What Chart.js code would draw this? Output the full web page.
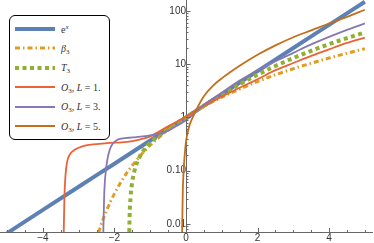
<!DOCTYPE html>
<html>
<head>
<meta charset="utf-8">
<script src="https://cdn.jsdelivr.net/npm/chart.js@4.4.1/dist/chart.umd.min.js"></script>
<style>
html, body { margin: 0; padding: 0; background: #fff; }
#wrap { position: relative; width: 374px; height: 243px; }
#legend {
  position: absolute; left: 9px; top: 15px; width: 99px; height: 123px;
  border: 1.3px solid #000; border-radius: 6px; background: #fff;
  font-family: "Liberation Serif", serif; font-size: 10px; color: #333;
}
.row { position: absolute; left: 5px; height: 12px; display: flex; align-items: center; white-space: nowrap; }
.row svg { margin-right: 6px; }
sub { font-size: 7px; vertical-align: -2px; line-height: 0; font-style: normal; }
sup { font-size: 7px; vertical-align: 4px; line-height: 0; }
</style>
</head>
<body>
<div id="wrap">
  <canvas id="chart" width="374" height="243"></canvas>
  <div id="legend"></div>
</div>
<script>
// e^x
const expX = [-5, -4, -3, -2, -1, 0, 1, 2, 3, 4, 5];
const expY = [0.0067, 0.0183, 0.0498, 0.135, 0.368, 1, 2.72, 7.39, 20.1, 54.6, 148.4];

// beta_3
const betaX = [-2.6, -2.5, -2.4, -2.25, -2.1, -2, -1.75, -1.5, -1.25, -1, -0.5, 0, 0.5, 1, 1.5, 2, 2.5, 3, 3.5, 4, 4.5, 5];
const betaY = [0.0024, 0.0048, 0.0085, 0.016, 0.027, 0.037, 0.073, 0.125, 0.2, 0.3, 0.58, 1, 1.6, 2.4, 3.4, 4.7, 6.3, 8.2, 10.4, 13, 16, 19.5];

// T_3
const taylorX = [-1.6, -1.58, -1.55, -1.5, -1.4, -1.3, -1.2, -1, -0.5, 0, 0.5, 1, 1.5, 2, 2.5, 3, 3.5, 4, 4.5, 5];
const taylorY = [0.001, 0.011, 0.031, 0.063, 0.123, 0.179, 0.232, 0.333, 0.604, 1, 1.65, 2.67, 4.19, 6.33, 9.23, 13, 17.8, 23.7, 30.8, 39.3];

// O_3, L = 1
const o1X = [-3.45, -3.42, -3.4, -3.37, -3.33, -3.25, -3.1, -2.9, -2.6, -2.2, -1.8, -1.5, -1.2, -1, -0.5, 0, 0.5, 1, 1.5, 2, 2.5, 3, 3.5, 4, 4.5, 5];
const o1Y = [0.001, 0.006, 0.03, 0.08, 0.14, 0.2, 0.25, 0.285, 0.31, 0.33, 0.34, 0.36, 0.4, 0.44, 0.68, 1.03, 1.65, 2.45, 3.6, 5.2, 7.7, 10.5, 14.3, 19, 25, 31.5];

// O_3, L = 3
const o3X = [-2.34, -2.31, -2.29, -2.27, -2.24, -2.2, -2.13, -2.05, -1.95, -1.8, -1.5, -1.2, -1, -0.6, -0.25, 0, 0.5, 1, 1.5, 2, 2.5, 3, 3.5, 4, 4.5, 5];
const o3Y = [0.001, 0.008, 0.03, 0.06, 0.1, 0.16, 0.25, 0.32, 0.37, 0.4, 0.42, 0.44, 0.46, 0.53, 0.7, 0.88, 1.72, 2.9, 4.9, 7.6, 11.3, 16.3, 23.5, 32.5, 44, 58];

// O_3, L = 5
const o5X = [-0.13, -0.11, -0.09, -0.07, -0.05, -0.03, 0, 0.05, 0.1, 0.2, 0.3, 0.5, 0.75, 1, 1.5, 2, 2.5, 3, 3.5, 4, 4.5, 5];
const o5Y = [0.001, 0.006, 0.04, 0.09, 0.15, 0.22, 0.35, 0.53, 0.72, 1.05, 1.45, 2.5, 3.9, 5.4, 9.3, 15, 22.5, 32, 43, 58, 77, 105];

// axes
const xTickVals = [-4, -2, 0, 2, 4];
const xTickText = ['\u22124', '\u22122', '0', '2', '4'];
const yTickVals = [0.01, 0.1, 1, 10, 100];
const yTickText = ['0.01', '0.10', '1', '10', '100'];

const axisColor = '#666';
const labelColor = '#333';

function pts(xs, ys) {
  return xs.map((x, i) => ({x: x, y: ys[i]}));
}

// tick marks point inwards, like the original
const tickMarks = {
  id: 'tickMarks',
  afterDraw(chart) {
    const ctx = chart.ctx;
    const sx = chart.scales.x, sy = chart.scales.y;
    const x0 = sx.getPixelForValue(0);
    const yb = chart.chartArea.bottom;
    ctx.save();
    ctx.strokeStyle = axisColor;
    ctx.lineWidth = 1;
    ctx.beginPath();
    for (let v = -5; v <= 5; v += 0.5) {
      const px = Math.round(sx.getPixelForValue(v)) + 0.5;
      const len = xTickVals.includes(v) ? 4 : 2;
      ctx.moveTo(px, yb);
      ctx.lineTo(px, yb - len);
    }
    for (let d = 0.001; d <= 100; d *= 10) {
      for (let m = 1; m <= 9; m++) {
        const v = d * m;
        if (v < sy.min || v > sy.max) continue;
        const py = Math.round(sy.getPixelForValue(v)) + 0.5;
        const len = m === 1 ? 4.5 : 2.5;
        ctx.moveTo(x0, py);
        ctx.lineTo(x0 + len, py);
      }
    }
    ctx.stroke();
    ctx.restore();
  }
};

const lineDefaults = { pointRadius: 0, fill: false, cubicInterpolationMode: 'monotone' };

new Chart(document.getElementById('chart'), {
  type: 'line',
  data: {
    datasets: [
      Object.assign({ label: 'e^x', data: pts(expX, expY), borderColor: '#5E81B5', borderWidth: 4, order: 6 }, lineDefaults),
      Object.assign({ label: 'beta3', data: pts(betaX, betaY), borderColor: '#E19C24', borderWidth: 3, borderDash: [5, 3, 1.5, 3], order: 5 }, lineDefaults),
      Object.assign({ label: 'T3', data: pts(taylorX, taylorY), borderColor: '#8FB032', borderWidth: 4, borderDash: [4, 3.5], order: 4 }, lineDefaults),
      Object.assign({ label: 'O3 L=1', data: pts(o1X, o1Y), borderColor: '#EB6235', borderWidth: 1.8, order: 3 }, lineDefaults),
      Object.assign({ label: 'O3 L=3', data: pts(o3X, o3Y), borderColor: '#8778B3', borderWidth: 1.8, order: 2 }, lineDefaults),
      Object.assign({ label: 'O3 L=5', data: pts(o5X, o5Y), borderColor: '#C56E1A', borderWidth: 1.8, order: 1 }, lineDefaults)
    ]
  },
  options: {
    responsive: false,
    animation: false,
    devicePixelRatio: 1,
    layout: { padding: { left: 0, right: 2, top: 0, bottom: -1 } },
    plugins: { legend: { display: false }, tooltip: { enabled: false } },
    scales: {
      x: {
        type: 'linear', min: -5.2, max: 5.2, position: 'bottom',
        grid: { drawOnChartArea: false, drawTicks: false },
        border: { color: axisColor, width: 1 },
        afterBuildTicks: (s) => { s.ticks = xTickVals.map(v => ({value: v})); },
        ticks: {
          autoSkip: false, maxRotation: 0, padding: 1, color: labelColor,
          font: { family: '"Liberation Sans", Arial, sans-serif', size: 10, lineHeight: 1 },
          callback: (v) => xTickText[xTickVals.indexOf(v)]
        }
      },
      y: {
        type: 'logarithmic', min: 0.00705, max: 160, position: { x: 0 },
        grid: { drawOnChartArea: false, drawTicks: false },
        border: { color: axisColor, width: 1 },
        afterBuildTicks: (s) => { s.ticks = yTickVals.map(v => ({value: v})); },
        afterFit: (s) => { s.paddingTop = 0; s.paddingBottom = 0; },
        ticks: {
          autoSkip: false, padding: 4, color: labelColor,
          font: { family: '"Liberation Sans", Arial, sans-serif', size: 10 },
          callback: (v) => yTickText[yTickVals.indexOf(v)]
        }
      }
    }
  },
  plugins: [tickMarks]
});

// legend box
const legendItems = [
  { html: 'e<sup><i>x</i></sup>', color: '#5E81B5', width: 4, dash: '' },
  { html: '<i>\u03B2</i><sub>3</sub>', color: '#E19C24', width: 3, dash: '5 3 1.5 3' },
  { html: '<i>T</i><sub>3</sub>', color: '#8FB032', width: 4, dash: '4 3.5' },
  { html: '<i>O</i><sub>3</sub>, <i>L</i> = 1.', color: '#EB6235', width: 1.8, dash: '' },
  { html: '<i>O</i><sub>3</sub>, <i>L</i> = 3.', color: '#8778B3', width: 1.8, dash: '' },
  { html: '<i>O</i><sub>3</sub>, <i>L</i> = 5.', color: '#C56E1A', width: 1.8, dash: '' }
];
const legend = document.getElementById('legend');
legendItems.forEach(function(item, i) {
  const row = document.createElement('div');
  row.className = 'row';
  row.style.top = (7 + i * 19.4) + 'px';
  row.innerHTML = '<svg width="40" height="8"><line x1="0" y1="4" x2="40" y2="4" stroke="' + item.color +
    '" stroke-width="' + item.width + '"' + (item.dash ? ' stroke-dasharray="' + item.dash + '"' : '') +
    '/></svg><span>' + item.html + '</span>';
  legend.appendChild(row);
});
</script>
</body>
</html>
